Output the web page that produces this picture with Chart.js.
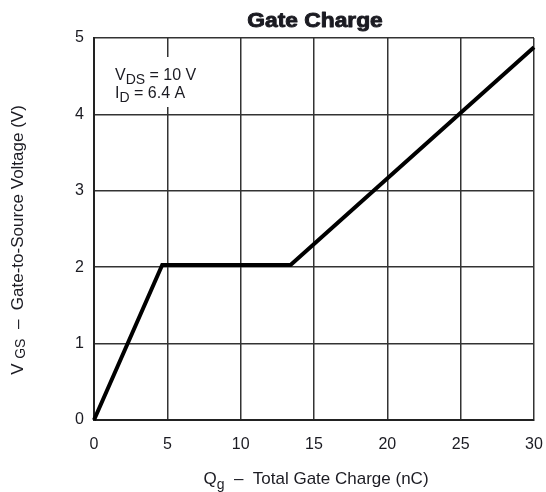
<!DOCTYPE html>
<html><head><meta charset="utf-8">
<script src="https://cdn.jsdelivr.net/npm/chart.js@4.4.1/dist/chart.umd.min.js"></script>
<style>html,body{margin:0;padding:0;background:#fff}</style>
</head><body>
<canvas id="c" width="546" height="492"></canvas>
<script>
// Data
const charge = [0, 4.65, 13.4, 30];      // Qg (nC)
const vgs = [0, 2.03, 2.03, 4.88];       // VGS (V)
const xTickValues = [0, 5, 10, 15, 20, 25, 30];
const yTickValues = [0, 1, 2, 3, 4, 5];
const titleText = "Gate Charge";
const noteLine1 = [["V", ""], ["DS", "sub"], [" = 10 V", ""]];
const noteLine2 = [["I", ""], ["D", "sub"], [" = 6.4 A", ""]];
const xTitleParts = [["Q", ""], ["g", "sub"], ["  \u2013  Total Gate Charge (nC)", ""]];
const yTitleParts = [["V ", ""], ["GS", "sub2"], ["  \u2013  Gate-to-Source Voltage (V)", ""]];

const FAM = '"Liberation Sans", Arial, sans-serif';
const TXT = '#1b1b22';

function richWidth(ctx, parts, size) {
  let w = 0;
  for (const [t, k] of parts) {
    ctx.font = (k ? Math.round(size * 0.85) : size) + 'px ' + FAM;
    w += ctx.measureText(t).width;
  }
  return w;
}
function drawRich(ctx, parts, x, y, size, align) {
  const w = richWidth(ctx, parts, size);
  let cx = align === 'center' ? x - w / 2 : x;
  ctx.textAlign = 'left';
  ctx.textBaseline = 'alphabetic';
  for (const [t, k] of parts) {
    const s = k ? Math.round(size * 0.85) : size;
    ctx.font = s + 'px ' + FAM;
    const dy = k === 'sub' ? size * 0.28 : (k === 'sub2' ? size * 0.12 : 0);
    ctx.fillText(t, cx, y + dy);
    cx += ctx.measureText(t).width;
  }
}

const textPlugin = {
  id: 'texts',
  beforeDatasetsDraw(chart) {
    const ctx = chart.ctx;
    ctx.save();
    ctx.fillStyle = '#fff';
    ctx.fillRect(110, 57, 98, 50);
    ctx.fillStyle = TXT;
    drawRich(ctx, noteLine1, 115, 80, 16, 'left');
    drawRich(ctx, noteLine2, 115, 98, 16, 'left');
    ctx.restore();
  },
  afterDraw(chart) {
    const ctx = chart.ctx;
    const a = chart.chartArea;
    ctx.save();
    ctx.fillStyle = TXT;
    ctx.strokeStyle = TXT;
    ctx.lineWidth = 0.9;
    ctx.lineJoin = 'round';
    ctx.font = 'bold 20px ' + FAM;
    ctx.textAlign = 'center';
    ctx.textBaseline = 'alphabetic';
    const cx = (a.left + a.right) / 2;
    ctx.save();
    ctx.translate(cx + 1, 27);
    ctx.scale(1.14, 1);
    ctx.fillText(titleText, 0, 0);
    ctx.strokeText(titleText, 0, 0);
    ctx.restore();
    drawRich(ctx, xTitleParts, cx + 2, 484, 17, 'center');
    ctx.save();
    ctx.translate(23, 240);
    ctx.rotate(-Math.PI / 2);
    drawRich(ctx, yTitleParts, 0, 0, 17, 'center');
    ctx.restore();
    ctx.restore();
  }
};

new Chart(document.getElementById('c'), {
  type: 'line',
  data: {
    datasets: [{
      data: charge.map((x, i) => ({ x: x, y: vgs[i] })),
      borderColor: '#000',
      borderWidth: 4,
      pointRadius: 0,
      tension: 0,
      fill: false,
      clip: false
    }]
  },
  options: {
    responsive: false,
    animation: false,
    devicePixelRatio: 1,
    layout: { padding: { top: 38, right: 12, left: 0, bottom: 0 } },
    plugins: { legend: { display: false }, title: { display: false }, tooltip: { enabled: false } },
    scales: {
      x: {
        type: 'linear', min: 0, max: 30,
        afterFit(s) { s.height = 72; s.paddingRight = 0; s.paddingLeft = 0; },
        afterBuildTicks(s) { s.ticks = xTickValues.map(v => ({ value: v })); },
        ticks: { font: { family: FAM, size: 16 }, color: TXT, padding: 15, maxRotation: 0 },
        grid: { color: '#333', lineWidth: 1.5, drawTicks: false },
        border: { display: true, color: '#222', width: 2 }
      },
      y: {
        type: 'linear', min: 0, max: 5,
        afterFit(s) { s.width = 94; s.paddingTop = 0; s.paddingBottom = 0; },
        afterBuildTicks(s) { s.ticks = yTickValues.map(v => ({ value: v })); },
        ticks: { font: { family: FAM, size: 16 }, color: TXT, padding: 10 },
        grid: { color: '#333', lineWidth: 1.5, drawTicks: false },
        border: { display: true, color: '#222', width: 2 }
      }
    }
  },
  plugins: [textPlugin]
});
</script>
</body></html>
